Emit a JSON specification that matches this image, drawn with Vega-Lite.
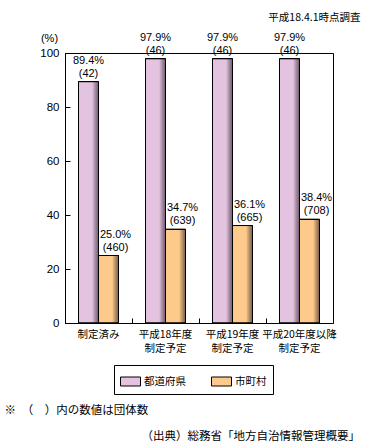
{
  "$schema": "https://vega.github.io/schema/vega-lite/v6.json",
  "width": 268,
  "height": 270,
  "autosize": {"type": "none"},
  "padding": {"left": 65, "top": 53, "right": 45, "bottom": 124},
  "background": "white",
  "config": {
    "font": "Noto Sans CJK JP",
    "view": {"stroke": "black", "strokeWidth": 1},
    "axis": {"domainColor": "black", "tickColor": "black", "labelColor": "black", "titleColor": "black", "titleFontWeight": "normal", "grid": false},
    "text": {"fontSize": 11, "color": "black", "baseline": "alphabetic", "font": "Liberation Sans"}
  },
  "title": {
    "text": "（出典）総務省「地方自治情報管理概要」",
    "orient": "bottom",
    "anchor": "end",
    "fontSize": 11.5,
    "fontWeight": "normal",
    "color": "black",
    "offset": 15
  },
  "data": {
    "values": [
      {"cat": "制定済み", "group": "都道府県", "pct": 89.4, "n": 42},
      {"cat": "制定済み", "group": "市町村", "pct": 25.0, "n": 460},
      {"cat": "平成18年度|制定予定", "group": "都道府県", "pct": 97.9, "n": 46},
      {"cat": "平成18年度|制定予定", "group": "市町村", "pct": 34.7, "n": 639},
      {"cat": "平成19年度|制定予定", "group": "都道府県", "pct": 97.9, "n": 46},
      {"cat": "平成19年度|制定予定", "group": "市町村", "pct": 36.1, "n": 665},
      {"cat": "平成20年度以降|制定予定", "group": "都道府県", "pct": 97.9, "n": 46},
      {"cat": "平成20年度以降|制定予定", "group": "市町村", "pct": 38.4, "n": 708}
    ]
  },
  "transform": [
    {"calculate": "format(datum.pct, '.1f') + '%'", "as": "pctLabel"},
    {"calculate": "'(' + datum.n + ')'", "as": "nLabel"}
  ],
  "resolve": {"axis": {"x": "independent"}},
  "encoding": {
    "x": {"field": "cat", "type": "nominal", "sort": null, "scale": {"paddingInner": 0, "paddingOuter": 0}},
    "xOffset": {"field": "group", "type": "nominal", "sort": ["都道府県", "市町村"], "scale": {"paddingInner": 0, "paddingOuter": 0.675}},
    "y": {
      "field": "pct", "type": "quantitative",
      "scale": {"domain": [0, 100], "nice": false},
      "axis": {
        "values": [0, 20, 40, 60, 80, 100],
        "title": "(%)", "titleAngle": 0, "titleX": -16, "titleY": -12, "titleAlign": "center", "titleBaseline": "alphabetic", "titleFontSize": 11, "titleFont": "Liberation Sans",
        "tickSize": -5, "labelPadding": 11, "labelFontSize": 11.5, "labelFont": "Liberation Sans"
      }
    }
  },
  "layer": [
    {
      "mark": {"type": "bar", "stroke": "black", "strokeWidth": 1},
      "encoding": {
        "x": {
          "field": "cat", "type": "nominal", "sort": null,
          "axis": {
            "labelAngle": 0, "labelExpr": "split(datum.label, '|')", "labelFontSize": 10.5, "labelLineHeight": 14,
            "labelOverlap": false, "labelBaseline": "top", "labelPadding": 11, "labelLimit": 0,
            "bandPosition": 0, "tickSize": -5,
            "title": "※　（　）内の数値は団体数", "titleFontSize": 11.5, "titleX": -61, "titleY": 90, "titleAlign": "left", "titleBaseline": "alphabetic"
          }
        },
        "color": {
          "field": "group", "type": "nominal", "sort": ["都道府県", "市町村"],
          "scale": {"domain": ["都道府県", "市町村"], "range": ["#e3c3df", "#fdca8c"]},
          "legend": {
            "title": null, "orient": "none", "legendX": 49, "legendY": 312, "direction": "horizontal",
            "strokeColor": "black", "padding": 6, "symbolType": "M-1,-0.45H1V0.45H-1Z", "symbolSize": 400,
            "symbolStrokeColor": "black", "symbolStrokeWidth": 1, "symbolOpacity": 1, "gridAlign": "all",
            "labelFontSize": 10.5, "labelColor": "black", "labelOffset": 3, "columnPadding": 23
          }
        }
      }
    },
    {
      "mark": {
        "type": "bar", "stroke": "black", "strokeWidth": 1,
        "fill": {"x1": 0, "y1": 0, "x2": 1, "y2": 0, "gradient": "linear", "stops": [
          {"offset": 0, "color": "rgba(0,0,0,0)"},
          {"offset": 0.68, "color": "rgba(0,0,0,0)"},
          {"offset": 1, "color": "rgba(40,20,40,0.6)"}
        ]}
      },
      "encoding": {"x": {"field": "cat", "type": "nominal", "sort": null, "axis": null}}
    },
    {
      "transform": [{"filter": "datum.group == '都道府県'"}],
      "mark": {"type": "text", "dy": -18},
      "encoding": {
        "x": {
          "field": "cat", "type": "nominal", "sort": null,
          "axis": {"orient": "top", "labels": false, "ticks": false, "domain": false,
            "title": "平成18.4.1時点調査", "titleFontSize": 10.5, "titleX": 295, "titleY": -33, "titleAlign": "right", "titleBaseline": "alphabetic"}
        },
        "text": {"field": "pctLabel"}
      }
    },
    {
      "transform": [{"filter": "datum.group == '都道府県'"}],
      "mark": {"type": "text", "dy": -5},
      "encoding": {
        "x": {"field": "cat", "type": "nominal", "sort": null, "axis": null},
        "text": {"field": "nLabel"}
      }
    },
    {
      "transform": [{"filter": "datum.group == '市町村'"}],
      "mark": {"type": "text", "dy": -18, "dx": 7},
      "encoding": {
        "x": {"field": "cat", "type": "nominal", "sort": null, "axis": null},
        "text": {"field": "pctLabel"}
      }
    },
    {
      "transform": [{"filter": "datum.group == '市町村'"}],
      "mark": {"type": "text", "dy": -5, "dx": 7},
      "encoding": {
        "x": {"field": "cat", "type": "nominal", "sort": null, "axis": null},
        "text": {"field": "nLabel"}
      }
    }
  ]
}
